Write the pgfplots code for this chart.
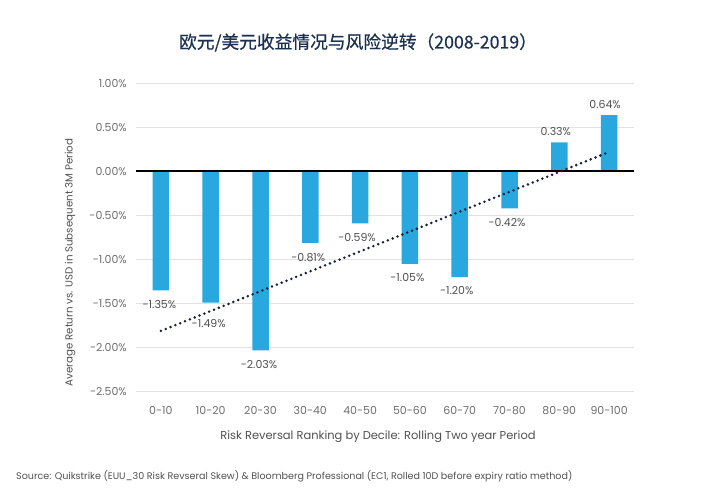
\documentclass[border=0pt]{standalone}
\usepackage{fontspec}
\setmainfont{Poppins}
\newfontfamily\cjk[AutoFakeBold=0.6]{Noto Sans CJK SC}
\usepackage{pgfplots}
\pgfplotsset{compat=1.18}
\definecolor{barblue}{RGB}{41,168,224}
\definecolor{gridgray}{RGB}{226,226,226}
\definecolor{ticktext}{RGB}{110,110,110}
\definecolor{labeltext}{RGB}{80,80,80}
\definecolor{titlenavy}{RGB}{28,49,80}
\definecolor{trendnavy}{RGB}{22,32,58}
\begin{document}
\begin{tikzpicture}
\path[use as bounding box] (0,0) rectangle (720bp,500bp);
\begin{axis}[
  at={(136bp,108.3bp)}, anchor=south west,
  scale only axis, width=498bp, height=308.4bp,
  xmin=-0.5, xmax=9.5, ymin=-2.5, ymax=1,
  axis line style={draw=none},
  tick style={draw=none},
  major tick length=0pt,
  ymajorgrids, grid style={line width=1.2bp, color=gridgray},
  xtick={0,1,2,3,4,5,6,7,8,9},
  xticklabels={0-10,10-20,20-30,30-40,40-50,50-60,60-70,70-80,80-90,90-100},
  ytick={-2.5,-2,-1.5,-1,-0.5,0,0.5,1},
  yticklabels={-2.50\%,-2.00\%,-1.50\%,-1.00\%,-0.50\%,0.00\%,0.50\%,1.00\%},
  /pgf/number format/assume math mode=true,
  xticklabel style={inner sep=0pt, anchor=center, yshift=-19bp, font=\fontsize{11}{12}\selectfont, text=ticktext},
  yticklabel style={inner sep=0pt, anchor=east, xshift=-9bp, font=\fontsize{11}{12}\selectfont, text=ticktext},
  clip=false,
]
\addplot[ybar, bar width=16.5bp, fill=barblue, draw=none] coordinates {
  (0,-1.35) (1,-1.49) (2,-2.03) (3,-0.81) (4,-0.59)
  (5,-1.05) (6,-1.20) (7,-0.42) (8,0.33) (9,0.64)
};
\addplot[black, line width=2bp] coordinates {(-0.5,0) (9.5,0)};
\addplot[trendnavy, line width=2.8bp, line cap=round, dash pattern=on 0pt off 5.2bp] coordinates {(0,-1.81) (9,0.22)};
\addplot[draw=none, mark=none, nodes near coords={\pgfplotspointmeta\%}, point meta=explicit symbolic,
  nodes near coords style={anchor=center, inner sep=0pt, font=\fontsize{11}{12}\selectfont, text=labeltext}]
  table[meta=label] {
x y label
-0.03 -1.511 -1.35
0.96 -1.727 -1.49
1.97 -2.197 -2.03
2.96 -0.974 -0.81
3.94 -0.753 -0.59
4.95 -1.208 -1.05
5.94 -1.352 -1.20
6.95 -0.576 -0.42
7.93 0.455 0.33
8.92 0.761 0.64
};
\end{axis}
\node[text=titlenavy, font=\cjk\bfseries\fontsize{17.8}{20}\selectfont] at (358bp,457.5bp) {欧元/美元收益情况与风险逆转（2008-2019）};
\node[text=labeltext, font=\fontsize{10.3}{13}\selectfont, rotate=90] at (70bp,237.5bp) {Average Return vs. USD in Subsequent 3M Period};
\node[text=labeltext, font=\fontsize{11.5}{13}\selectfont] at (378bp,63bp) {Risk Reversal Ranking by Decile: Rolling Two year Period};
\node[text=labeltext, font=\fontsize{9.6}{12}\selectfont, anchor=west, inner sep=0pt] at (16bp,24bp) {Source: Quikstrike (EUU\_30 Risk Revseral Skew) \& Bloomberg Professional (EC1, Rolled 10D before expiry ratio method)};
\end{tikzpicture}
\end{document}
